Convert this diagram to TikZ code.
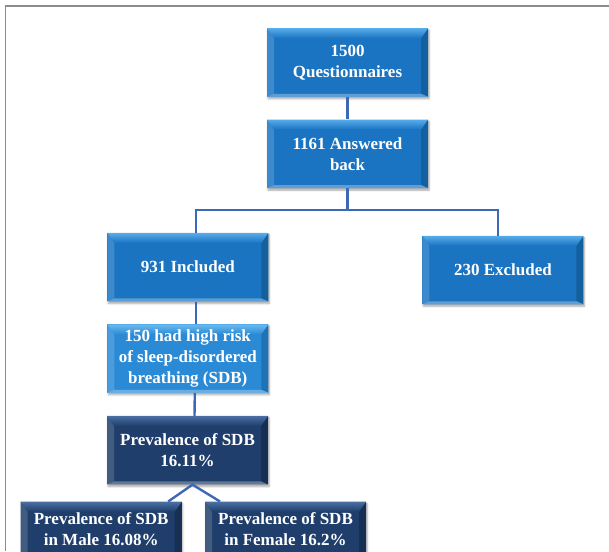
\documentclass[tikz,border=0pt]{standalone}
\usepackage{fontspec}
\setmainfont{Liberation Serif}
\usetikzlibrary{shadows.blur}
\usetikzlibrary{calc}

\definecolor{boxblue}{HTML}{1A74C2}
\definecolor{boxblueup}{HTML}{58ACEA}
\definecolor{boxbluedn}{HTML}{14609F}
\definecolor{boxlight}{HTML}{2A8AD6}
\definecolor{boxlightup}{HTML}{6CBBF0}
\definecolor{boxlightdn}{HTML}{1E72B6}
\definecolor{boxnavy}{HTML}{1F3E6B}
\definecolor{boxnavyup}{HTML}{4A6FA3}
\definecolor{boxnavydn}{HTML}{172F52}
\definecolor{linkblue}{HTML}{3C68B8}
\definecolor{framegray}{HTML}{8C8C8C}

\tikzset{
	stagebox/.style n args={3}{
		fill=#1, minimum width=161pt, minimum height=68.5pt, inner sep=0pt,
		align=center, text=white, font=\bfseries\fontsize{17}{21}\selectfont,
		blur shadow={shadow xshift=1pt, shadow yshift=-2pt, shadow opacity=35, shadow blur steps=4},
		path picture={
			\coordinate (nw) at (path picture bounding box.north west);
			\coordinate (ne) at (path picture bounding box.north east);
			\coordinate (sw) at (path picture bounding box.south west);
			\coordinate (se) at (path picture bounding box.south east);
			\fill[#1!85!white] (nw) -- (sw) -- ([xshift=7pt,yshift=3pt]sw) -- ([xshift=7pt,yshift=-10pt]nw) -- cycle;
			\fill[#3] (ne) -- (se) -- ([xshift=-7pt,yshift=3pt]se) -- ([xshift=-7pt,yshift=-10pt]ne) -- cycle;
			\fill[#1!70!white] (sw) -- (se) -- ([xshift=-7pt,yshift=3pt]se) -- ([xshift=7pt,yshift=3pt]sw) -- cycle;
			\shade[top color=#2, bottom color=#1] (nw) -- (ne) -- ([xshift=-7pt,yshift=-10pt]ne) -- ([xshift=7pt,yshift=-10pt]nw) -- cycle;
		}
	},
	bluebox/.style={stagebox={boxblue}{boxblueup}{boxbluedn}},
	lightbox/.style={stagebox={boxlight}{boxlightup}{boxlightdn}},
	navybox/.style={stagebox={boxnavy}{boxnavyup}{boxnavydn}},
	link/.style={linkblue, line width=2.4pt},
}

\begin{document}
\begin{tikzpicture}[x=1pt,y=-1pt]

	\clip (0,0) rectangle (609,551);
	\draw[framegray, line width=1.5pt] (609,6) -- (5.5,6) -- (5.5,551);

	\node[bluebox] (quest) at (347.5,62.5) {1500\\Questionnaires};
	\node[bluebox] (answer) at (347.5,153.8) {1161 Answered\\back};
	\node[bluebox] (incl) at (187.8,267.2) {931 Included};
	\node[bluebox] (excl) at (502.9,270) {230 Excluded};
	\node[lightbox] (risk) at (187.8,358.5) {150 had high risk\\of sleep-disordered\\breathing (SDB)};
	\node[navybox] (prev) at (187.5,450.2) {Prevalence of SDB\\16.11\%};
	\node[navybox, minimum height=54pt] (male) at (101.2,528.7) {Prevalence of SDB\\in Male 16.08\%};
	\node[navybox, minimum height=54pt] (female) at (285.5,528.7) {Prevalence of SDB\\in Female 16.2\%};

	\coordinate (split) at (347.5,210);
	\coordinate (fork) at ([xshift=5pt]prev.south);
	\draw[link] (quest) -- (answer);
	\draw[link] (answer.south) -- (split);
	\draw[link] ([xshift=8pt]incl.north) |- (split) -| ([xshift=-5pt]excl.north);
	\draw[link] ([xshift=8pt]incl.south) -- ([xshift=8pt]risk.north);
	\draw[link] ([xshift=7pt]risk.south) -- ([xshift=7pt]prev.north);
	\draw[link] ([xshift=67pt]male.north) -- (fork) -- ([xshift=-65.5pt]female.north);

\end{tikzpicture}
\end{document}
